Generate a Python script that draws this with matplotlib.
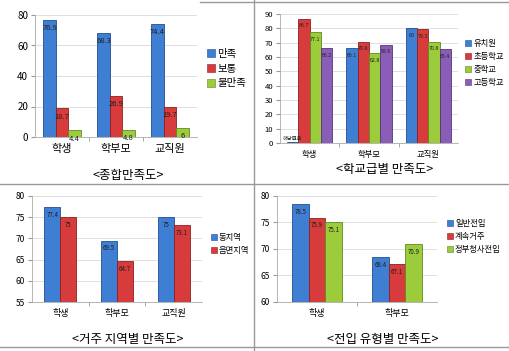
import matplotlib
matplotlib.use("Agg")
import matplotlib.pyplot as plt
from matplotlib.lines import Line2D

plt.rcParams['font.family'] = ['Noto Sans CJK KR', 'DejaVu Sans']

W, H = 509, 351

# data
groups3 = ['학생', '학부모', '교직원']
groups2 = ['학생', '학부모']

sat_series = ['만족', '보통', '불만족']
sat_values = [[76.9, 68.3, 74.4],
              [18.7, 26.9, 19.7],
              [4.4, 4.8, 6]]
sat_labels = [['76.9', '68.3', '74.4'],
              ['18.7', '26.9', '19.7'],
              ['4.4', '4.8', '6']]

school_series = ['유치원', '초등학교', '중학교', '고등학교']
school_values = [[0.8, 66.1, 80],
                 [86.7, 70.8, 79.3],
                 [77.1, 62.8, 70.8],
                 [66.2, 68.6, 65.4]]
school_labels = [['해당없음', '66.1', '80'],
                 ['86.7', '70.8', '79.3'],
                 ['77.1', '62.8', '70.8'],
                 ['66.2', '68.6', '65.4']]

region_series = ['동지역', '읍면지역']
region_values = [[77.4, 69.5, 75],
                 [75, 64.7, 73.1]]
region_labels = [['77.4', '69.5', '75'],
                 ['75', '64.7', '73.1']]

move_series = ['일반전입', '계속거주', '정부청사전입']
move_values = [[78.5, 68.4],
               [75.9, 67.1],
               [75.1, 70.9]]
move_labels = [['78.5', '68.4'],
               ['75.9', '67.1'],
               ['75.1', '70.9']]

BLUE, RED, GREEN, PURPLE = '#3f7fd3', '#d83b3b', '#9ccb3c', '#8a5db8'
EDGES = {BLUE: '#1f4f8f', RED: '#8e1f1f', GREEN: '#5f8a1f', PURPLE: '#553578'}


def px_axes(fig, x0, y0, x1, y1):
    return fig.add_axes([x0 / W, 1 - y1 / H, (x1 - x0) / W, (y1 - y0) / H])


def bar_panel(ax, cats, series, values, labels, colors, bw, ylim, step,
              tick_fs, cat_fs, val_fs, cat_pad):
    n = len(series)
    span = ylim[1] - ylim[0]
    for i, (vals, labs, c) in enumerate(zip(values, labels, colors)):
        xs = [k + (i - (n - 1) / 2) * bw for k in range(len(cats))]
        ax.bar(xs, [v - ylim[0] for v in vals], bw, bottom=ylim[0],
               color=c, edgecolor=EDGES[c], linewidth=0.6, zorder=3,
               label=series[i])
        for x, v, lab in zip(xs, vals, labs):
            fs = val_fs if len(lab) < 5 else val_fs * 0.7
            if v - ylim[0] < span * 0.05:
                # bar too short: label sits on top of it
                ax.text(x, v + span * 0.01, lab, ha='center', va='bottom',
                        fontsize=fs, color='#202020', zorder=4)
            else:
                ax.text(x, v - span * 0.035, lab, ha='center', va='top',
                        fontsize=fs, color='#202020', zorder=4)
    ax.set_ylim(*ylim)
    ax.set_xlim(-0.5, len(cats) - 0.5)
    ax.set_yticks(list(range(int(ylim[0]), int(ylim[1]) + 1, step)))
    ax.tick_params(axis='y', labelsize=tick_fs, length=3, color='#999999',
                   pad=2)
    ax.set_xticks(range(len(cats)))
    ax.set_xticklabels(cats, fontsize=cat_fs)
    ax.set_xticks([k + 0.5 for k in range(len(cats) - 1)], minor=True)
    ax.tick_params(axis='x', which='major', length=0, pad=cat_pad)
    ax.tick_params(axis='x', which='minor', length=3, color='#999999')
    ax.grid(axis='y', color='#d9d9d9', linewidth=0.6, zorder=0)
    for s in ['top', 'right']:
        ax.spines[s].set_visible(False)
    for s in ['left', 'bottom']:
        ax.spines[s].set_color('#aaaaaa')
        ax.spines[s].set_linewidth(0.6)


def legend(ax, series, colors, fs, x, y, spacing):
    handles = [Line2D([], [], marker='s', linestyle='', markersize=fs * 0.75,
                      markerfacecolor=c, markeredgecolor=EDGES[c],
                      markeredgewidth=0.4) for c in colors]
    ax.legend(handles, series, loc='center left', bbox_to_anchor=(x, y),
              frameon=False, fontsize=fs, handletextpad=0.2,
              labelspacing=spacing, borderaxespad=0, handlelength=0.8,
              borderpad=0)


fig = plt.figure(figsize=(W / 100, H / 100), dpi=100)

ax1 = px_axes(fig, 35, 15, 197, 137)
bar_panel(ax1, groups3, sat_series, sat_values, sat_labels,
          [BLUE, RED, GREEN], 0.23, (0, 80), 20, 7, 8, 5.5, 5)
legend(ax1, sat_series, [BLUE, RED, GREEN], 7.5, 1.06, 0.56, 0.45)

ax2 = px_axes(fig, 280, 14, 458, 143)
bar_panel(ax2, groups3, school_series, school_values, school_labels,
          [BLUE, RED, GREEN, PURPLE], 0.19, (0, 90), 10, 5.5, 6, 3.8, 5)
legend(ax2, school_series, [BLUE, RED, GREEN, PURPLE], 6, 1.04, 0.62, 0.5)

ax3 = px_axes(fig, 32, 196, 202, 302)
bar_panel(ax3, groups3, region_series, region_values, region_labels,
          [BLUE, RED], 0.28, (55, 80), 5, 6, 6.5, 4.5, 5)
legend(ax3, region_series, [BLUE, RED], 6, 1.05, 0.55, 0.5)

ax4 = px_axes(fig, 277, 196, 437, 302)
bar_panel(ax4, groups2, move_series, move_values, move_labels,
          [BLUE, RED, GREEN], 0.21, (60, 80), 5, 6, 6.5, 4.5, 5)
legend(ax4, move_series, [BLUE, RED, GREEN], 6, 1.06, 0.62, 0.5)

# panel titles
titles = ['<종합만족도>', '<학교급별 만족도>', '<거주 지역별 만족도>', '<전입 유형별 만족도>']
title_pos = [(128, 176), (385, 170), (128, 339), (383, 339)]
for t, (tx, ty) in zip(titles, title_pos):
    fig.text(tx / W, 1 - ty / H, t, ha='center', va='center', fontsize=9)

# frame lines between the panels
line_kw = dict(color='#999999', linewidth=1.0, transform=fig.transFigure)
fig.add_artist(Line2D([254 / W, 254 / W], [0, 1], **line_kw))
fig.add_artist(Line2D([0, 1], [1 - 184 / H] * 2, **line_kw))
fig.add_artist(Line2D([0, 1], [1 - 347 / H] * 2, **line_kw))
fig.add_artist(Line2D([200 / W, 1], [1 - 2 / H] * 2, **line_kw))

fig.savefig('out.png', dpi=100)
